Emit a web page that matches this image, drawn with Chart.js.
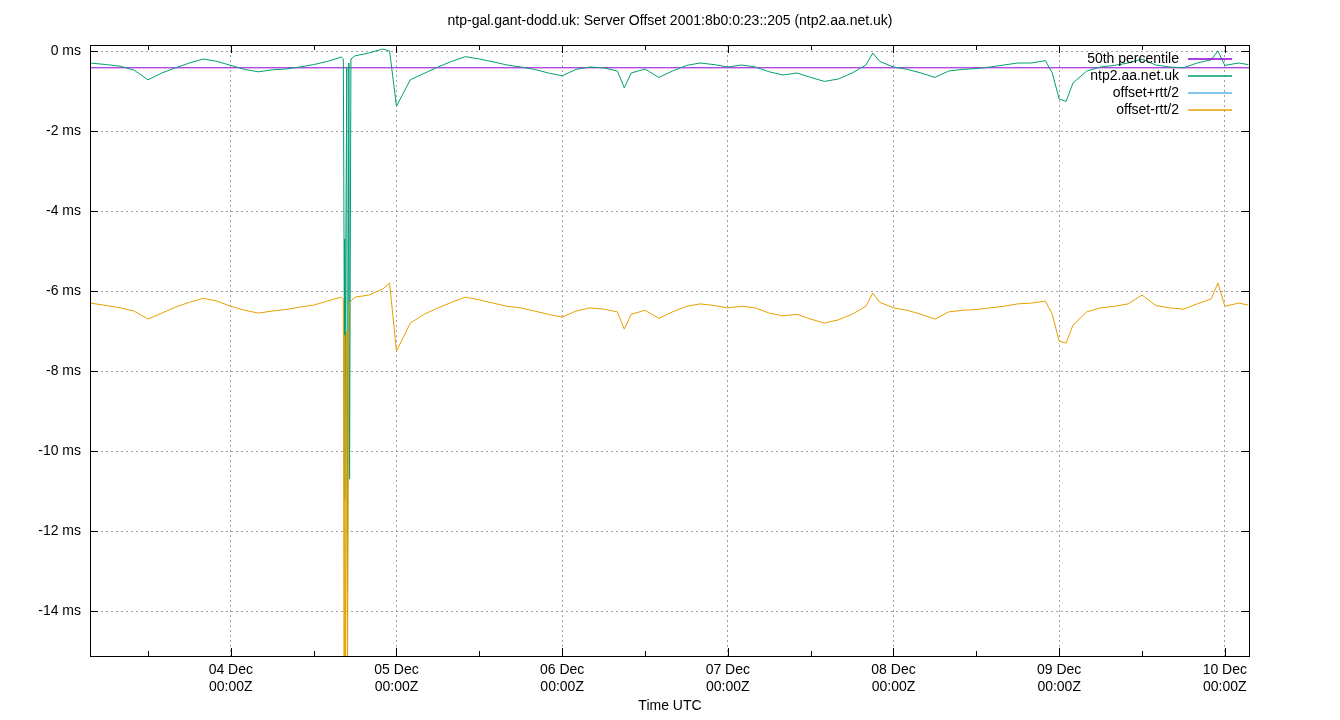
<!DOCTYPE html>
<html>
<head>
<meta charset="utf-8">
<script src="https://cdn.jsdelivr.net/npm/chart.js@4"></script>
<style>
  html, body { margin: 0; padding: 0; background: #fff; }
  #wrap { width: 1340px; height: 720px; }
</style>
</head>
<body>
<div id="wrap"><canvas id="offsetChart"></canvas></div>
<script>
// hours relative to 04 Dec 00:00Z
const hours = [-20.4,-18,-16,-14,-12,-10,-8,-6,-4,-2,0,2,4,6,8,10,12,14,16,
  16.3,16.4,16.5,16.6,16.8,16.9,17.1,17.2,17.4,
  18,20,22,23,24,26,28,30,32,34,36,38,40,42,44,46,48,50,52,54,56,57,58,60,62,64,66,68,70,
  72,74,76,78,80,82,84,86,88,90,92,93,94,96,98,100,102,104,106,108,110,112,114,116,118,119,
  120,121,122,124,126,128,130,132,134,136,138,140,142,143,144,146,147.4];

const offset = [-0.30,-0.34,-0.38,-0.48,-0.72,-0.55,-0.42,-0.30,-0.20,-0.26,-0.36,-0.46,-0.52,-0.47,-0.45,-0.40,-0.34,-0.26,-0.15,
  -0.20,-4.70,-11.2,-7.00,-0.40,-13.5,-0.30,-10.7,-0.20,
  -0.12,-0.05,0.05,0.00,-1.38,-0.72,-0.56,-0.40,-0.26,-0.14,-0.20,-0.27,-0.35,-0.40,-0.46,-0.55,-0.62,-0.46,-0.40,-0.42,-0.50,-0.92,-0.55,-0.45,-0.66,-0.50,-0.36,-0.30,-0.34,
  -0.40,-0.35,-0.40,-0.52,-0.60,-0.55,-0.66,-0.76,-0.70,-0.55,-0.35,-0.05,-0.26,-0.40,-0.46,-0.55,-0.66,-0.50,-0.46,-0.44,-0.40,-0.35,-0.30,-0.30,-0.24,-0.55,
  -1.20,-1.26,-0.80,-0.50,-0.40,-0.36,-0.30,-0.20,-0.35,-0.40,-0.42,-0.30,-0.22,0.00,-0.36,-0.30,-0.34];

const offsetMinus = [-6.30,-6.36,-6.42,-6.50,-6.70,-6.55,-6.40,-6.28,-6.18,-6.25,-6.38,-6.48,-6.55,-6.50,-6.46,-6.40,-6.35,-6.25,-6.15,
  -6.20,-16.0,-7.10,-16.0,-7.00,-16.0,-6.50,-6.30,-6.25,
  -6.15,-6.10,-5.95,-5.80,-7.50,-6.80,-6.58,-6.42,-6.28,-6.15,-6.22,-6.30,-6.38,-6.42,-6.50,-6.58,-6.65,-6.50,-6.42,-6.45,-6.52,-6.95,-6.58,-6.48,-6.68,-6.52,-6.38,-6.32,-6.36,
  -6.42,-6.38,-6.42,-6.55,-6.62,-6.58,-6.70,-6.80,-6.72,-6.58,-6.38,-6.05,-6.28,-6.42,-6.48,-6.58,-6.70,-6.52,-6.48,-6.46,-6.42,-6.38,-6.32,-6.30,-6.25,-6.58,
  -7.25,-7.30,-6.85,-6.52,-6.42,-6.38,-6.32,-6.10,-6.36,-6.42,-6.45,-6.32,-6.20,-5.80,-6.38,-6.30,-6.35];

const offsetPlus = [5.70, 5.65, 5.75, 5.70];
const offsetPlusHours = [-20.4, 40, 100, 147.4];

const percentile = -0.42;
const xMin = -20.4, xMax = 147.5;
const yMin = -15.12, yMax = 0.15;
const dayTicks = [0, 24, 48, 72, 96, 120, 144];
const dayLabels = ['04 Dec', '05 Dec', '06 Dec', '07 Dec', '08 Dec', '09 Dec', '10 Dec'];
const yTicks = [-14, -12, -10, -8, -6, -4, -2, 0];

const FONT = 'Liberation Sans, Arial, sans-serif';

function pts(xs, ys) { return xs.map((x, i) => ({ x: x, y: ys[i] })); }

const legendItems = [
    { label: '50th percentile', color: '#9400d3' },
    { label: 'ntp2.aa.net.uk', color: '#009e73' },
    { label: 'offset+rtt/2', color: '#56b4e9' },
    { label: 'offset-rtt/2', color: '#e69f00' }
];

const decor = {
    id: 'decor',
    afterDraw(chart) {
        const ctx = chart.ctx, a = chart.chartArea;
        ctx.save();
        ctx.setLineDash([]);
        ctx.strokeStyle = '#000';
        ctx.lineWidth = 1;
        ctx.strokeRect(a.left + 0.5, a.top + 0.5, a.right - a.left, a.bottom - a.top);
        // minor 12h ticks top/bottom
        const xs = chart.scales.x;
        for (let h = -12; h < xMax; h += 12) {
            const px = Math.round(xs.getPixelForValue(h)) + 0.5;
            const len = (h % 24 === 0) ? 8 : 5;
            ctx.beginPath();
            ctx.moveTo(px, a.bottom); ctx.lineTo(px, a.bottom - len);
            ctx.moveTo(px, a.top); ctx.lineTo(px, a.top + len);
            ctx.stroke();
        }
        const ys = chart.scales.y;
        yTicks.forEach(v => {
            const py = Math.round(ys.getPixelForValue(v)) + 0.5;
            ctx.beginPath();
            ctx.moveTo(a.left, py); ctx.lineTo(a.left + 8, py);
            ctx.moveTo(a.right, py); ctx.lineTo(a.right - 8, py);
            ctx.stroke();
        });
        // title and axis label
        ctx.fillStyle = '#000';
        ctx.font = '14px ' + FONT;
        ctx.textAlign = 'center';
        ctx.textBaseline = 'middle';
        ctx.fillText('ntp-gal.gant-dodd.uk: Server Offset 2001:8b0:0:23::205 (ntp2.aa.net.uk)', 670, 21);
        ctx.fillText('Time UTC', 670, 706);
        // legend
        ctx.textAlign = 'right';
        legendItems.forEach((it, i) => {
            const y = 59 + i * 17;
            ctx.fillStyle = '#000';
            ctx.fillText(it.label, 1179, y);
            ctx.strokeStyle = it.color;
            ctx.lineWidth = 1.3;
            ctx.beginPath();
            ctx.moveTo(1188, y); ctx.lineTo(1232, y);
            ctx.stroke();
        });
        ctx.restore();
    }
};

const lineDs = (label, data, color) => ({
    label: label, data: data, borderColor: color, borderWidth: 1,
    pointRadius: 0, tension: 0, fill: false
});

const gridOpts = { color: '#a0a0a0', drawTicks: false };
const borderOpts = { display: true, color: '#000', dash: [2, 3] };

new Chart(document.getElementById('offsetChart').getContext('2d'), {
    type: 'line',
    data: {
        datasets: [
            lineDs('offset-rtt/2', pts(hours, offsetMinus), '#e69f00'),
            lineDs('offset+rtt/2', pts(offsetPlusHours, offsetPlus), '#56b4e9'),
            lineDs('ntp2.aa.net.uk', pts(hours, offset), '#009e73'),
            lineDs('50th percentile', [{ x: xMin, y: percentile }, { x: xMax, y: percentile }], '#9400d3')
        ]
    },
    options: {
        responsive: true,
        maintainAspectRatio: false,
        animation: false,
        layout: { padding: { top: 45, right: 91, left: 0, bottom: 0 } },
        plugins: { legend: { display: false }, tooltip: { enabled: false } },
        scales: {
            x: {
                type: 'linear', min: xMin, max: xMax,
                afterBuildTicks: s => { s.ticks = dayTicks.map(v => ({ value: v })); },
                afterFit: s => { s.height = 64; },
                grid: gridOpts,
                border: borderOpts,
                ticks: {
                    color: '#000', font: { family: FONT, size: 14 }, padding: 6, maxRotation: 0,
                    callback: v => [dayLabels[dayTicks.indexOf(v)], '00:00Z']
                }
            },
            y: {
                type: 'linear', min: yMin, max: yMax,
                afterBuildTicks: s => { s.ticks = yTicks.map(v => ({ value: v })); },
                afterFit: s => { s.width = 90; },
                grid: gridOpts,
                border: borderOpts,
                ticks: {
                    color: '#000', font: { family: FONT, size: 14 }, padding: 9,
                    callback: v => v + ' ms'
                }
            }
        }
    },
    plugins: [decor]
});
</script>
</body>
</html>
